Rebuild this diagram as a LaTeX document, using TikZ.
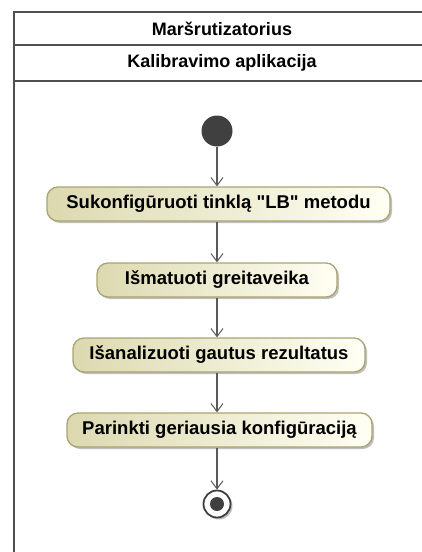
\documentclass[tikz,border=0pt]{standalone}
\usepackage{fontspec}
\setmainfont{Liberation Sans}
\usetikzlibrary{arrows.meta,shadows}
\definecolor{framegray}{HTML}{505050}
\definecolor{flowgray}{HTML}{5A5A5A}
\definecolor{nodedark}{HTML}{404040}
\definecolor{actleft}{HTML}{DCD9B0}
\definecolor{actright}{HTML}{FFFFF4}
\definecolor{actborder}{HTML}{A8A472}
\tikzset{
  lanetitle/.style={font=\fontsize{18}{20}\selectfont\bfseries, text=black},
  action/.style={rectangle, rounded corners=11pt, draw=actborder, line width=1.3pt,
    left color=actleft, right color=actright, minimum height=34pt, inner xsep=6pt,
    font=\fontsize{18.5}{20}\selectfont\bfseries, text=black,
    general shadow={shadow xshift=2pt, shadow yshift=-2pt, fill=black!25}},
  flow/.style={draw=flowgray, line width=1.2pt, -{Straight Barb[length=8pt,width=12pt,line width=1pt]}},
}
\begin{document}
\begin{tikzpicture}[x=1pt,y=-1pt]
\useasboundingbox (0,0) rectangle (422,552);
% swimlane frame
\draw[framegray, line width=2pt] (14,552) -- (14,12) -- (423,12);
\draw[framegray, line width=2pt] (14,45) -- (423,45);
\draw[framegray, line width=2pt] (14,81) -- (423,81);
\node[lanetitle] (part) at (222,28.5) {Maršrutizatorius};
\node[lanetitle] (lane) at (222,63) {Kalibravimo aplikacija};
% initial and final nodes
\node[circle, fill=nodedark, minimum size=31pt, inner sep=0pt] (start) at (217,131) {};
\node[action, minimum width=343pt] (a1) at (218.5,204) {Sukonfigūruoti tinklą \textquotedbl LB\textquotedbl{} metodu};
\node[action, minimum width=240pt] (a2) at (217,280) {Išmatuoti greitaveika};
\node[action, minimum width=292pt] (a3) at (219,355) {Išanalizuoti gautus rezultatus};
\node[action, minimum width=305pt] (a4) at (219.5,430) {Parinkti geriausia konfigūraciją};
\node[circle, draw=nodedark, line width=1.8pt, fill=white, minimum size=27pt, inner sep=0pt,
  general shadow={shadow xshift=2pt, shadow yshift=-2pt, fill=black!25}] (stop) at (217,504) {};
\node[circle, fill=nodedark, minimum size=14pt, inner sep=0pt] (stopdot) at (stop.center) {};
% control flows
\draw[flow] (start) -- (start |- a1.north);
\draw[flow] (a1.south -| start) -- (start |- a2.north);
\draw[flow] (a2.south -| start) -- (start |- a3.north);
\draw[flow] (a3.south -| start) -- (start |- a4.north);
\draw[flow] (a4.south -| start) -- (stop);
\end{tikzpicture}
\end{document}
